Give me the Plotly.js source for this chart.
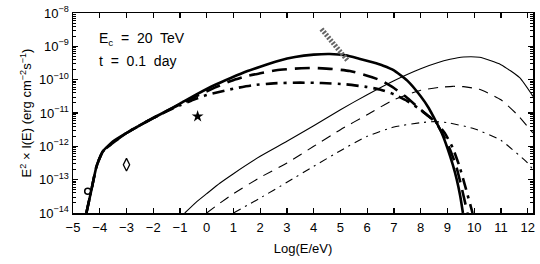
<!DOCTYPE html>
<html>
<head>
<meta charset="utf-8">
<script src="https://cdn.plot.ly/plotly-3.0.1.min.js"></script>
<style>html,body{margin:0;padding:0;background:#fff;}#chart{width:540px;height:264px;}</style>
</head>
<body>
<div id="chart"></div>
<script>
// Values are log10 of E^2 x I(E) (erg cm^-2 s^-1)
const thickSolidX = [-4.5, -4.31, -4.12, -3.88, -3.5, -3, -2.5, -2, -1.5, -1, -0.4, 0.3, 0.9, 1.5, 2, 2.7, 3.3, 4, 4.6, 5.2, 5.7, 6.2, 6.6, 7, 7.5, 8, 8.3, 8.6, 8.8, 9.0, 9.2, 9.35, 9.48, 9.58];
const thickSolidY = [-14, -13.3, -12.6, -12.15, -11.85, -11.6, -11.37, -11.15, -10.94, -10.72, -10.45, -10.16, -9.95, -9.75, -9.61, -9.43, -9.32, -9.25, -9.23, -9.27, -9.37, -9.48, -9.58, -9.72, -10.03, -10.5, -10.85, -11.3, -11.62, -12.05, -12.55, -13.0, -13.5, -14];

const thickDashX = [-4.5, -4.31, -4.12, -3.88, -3, -2, -1, -0.4, 0.3, 0.9, 1.5, 2, 2.6, 3.3, 4, 4.7, 5.35, 6, 6.5, 7, 7.5, 8, 8.3, 8.6, 8.9, 9.1, 9.33, 9.55, 9.75];
const thickDashY = [-14, -13.3, -12.6, -12.15, -11.6, -11.15, -10.74, -10.5, -10.24, -10.04, -9.89, -9.81, -9.72, -9.67, -9.65, -9.68, -9.74, -9.88, -10.02, -10.25, -10.55, -10.9, -11.1, -11.32, -11.75, -12.1, -12.6, -13.3, -14];

const thickDashDotX = [-4.5, -4.31, -4.12, -3.88, -3, -2, -1.5, -1, -0.5, 0, 1, 1.7, 2.5, 3.5, 4.3, 5.2, 6, 6.5, 7, 7.5, 7.9, 8.3, 8.6, 8.9, 9.2, 9.45, 9.7, 9.94];
const thickDashDotY = [-14, -13.3, -12.6, -12.15, -11.6, -11.15, -10.95, -10.77, -10.6, -10.46, -10.27, -10.17, -10.11, -10.09, -10.1, -10.14, -10.22, -10.3, -10.44, -10.64, -10.85, -11.1, -11.3, -11.6, -12.05, -12.6, -13.3, -14];

const thinSolidX = [-0.82, -0.4, 0, 0.5, 1, 2, 3, 4, 5, 6, 7, 8, 8.6, 9.1, 9.6, 10.2, 11, 11.7, 12.2];
const thinSolidY = [-14, -13.68, -13.42, -13.1, -12.82, -12.3, -11.85, -11.38, -10.9, -10.45, -10.03, -9.67, -9.5, -9.39, -9.32, -9.33, -9.55, -9.94, -10.5];

const thinDashX = [0, 0.5, 1, 2, 3, 4, 5, 6, 7, 8, 8.7, 9.2, 9.6, 10.2, 11, 11.6, 12.2];
const thinDashY = [-14, -13.7, -13.42, -12.93, -12.5, -12.0, -11.5, -11.05, -10.6, -10.32, -10.23, -10.2, -10.21, -10.29, -10.6, -11.04, -11.6];

const thinDashDotX = [1, 2, 3, 4, 5, 6, 7, 8, 8.5, 9, 10, 11, 12, 12.2];
const thinDashDotY = [-14, -13.55, -13.08, -12.6, -12.13, -11.7, -11.42, -11.29, -11.26, -11.29, -11.47, -11.82, -12.5, -12.7];

// observational points
const circleX = [-4.45], circleY = [-13.35];
const diamondX = [-3.0], diamondY = [-12.55];
const starX = [-0.34], starY = [-11.1];
// hatched TeV band (endpoints)
const bandX = [4.29, 5.29], bandY = [-8.48, -9.45];

const xTickVals = [-5,-4,-3,-2,-1,0,1,2,3,4,5,6,7,8,9,10,11,12];
const yTickVals = [1e-14,1e-13,1e-12,1e-11,1e-10,1e-9,1e-8];
const yTickText = ['10<sup>−14</sup>','10<sup>−13</sup>','10<sup>−12</sup>','10<sup>−11</sup>','10<sup>−10</sup>','10<sup>−9</sup>','10<sup>−8</sup>'];

const toLin = a => a.map(v => Math.pow(10, v));

function line(x, y, width, dash) {
  return {x: x, y: toLin(y), mode: 'lines', type: 'scatter', hoverinfo: 'skip',
    line: {color: '#000', width: width, dash: dash, shape: 'spline', smoothing: 0.5}};
}

const traces = [
  line(thickSolidX, thickSolidY, 2.6, 'solid'),
  line(thickDashX, thickDashY, 2.6, '15px,8px'),
  line(thickDashDotX, thickDashDotY, 2.6, '12px,6px,3px,6px'),
  line(thinSolidX, thinSolidY, 1.1, 'solid'),
  line(thinDashX, thinDashY, 1.1, '10px,7px'),
  line(thinDashDotX, thinDashDotY, 1.1, '8px,5px,2px,5px'),
  {x: bandX, y: toLin(bandY), mode: 'lines', type: 'scatter', hoverinfo: 'skip',
    line: {color: '#666', width: 5, dash: '2px,1.5px'}},
  {x: circleX, y: toLin(circleY), mode: 'markers', type: 'scatter',
    marker: {symbol: 'circle-open', size: 6, color: '#000', line: {width: 1.5, color: '#000'}}},
  {x: diamondX, y: toLin(diamondY), mode: 'markers', type: 'scatter',
    marker: {symbol: 'diamond-tall-open', size: 9, color: '#000', line: {width: 1.3, color: '#000'}}},
  {x: starX, y: toLin(starY), mode: 'markers', type: 'scatter',
    marker: {symbol: 'star', size: 9, color: '#000'}}
];

const font = {family: 'Liberation Sans, Arial, sans-serif', size: 13, color: '#000'};

const layout = {
  width: 540, height: 264,
  margin: {l: 73, r: 7, t: 13, b: 51},
  paper_bgcolor: '#fff', plot_bgcolor: '#fff',
  showlegend: false,
  font: font,
  xaxis: {
    range: [-5, 12.2], tickmode: 'array', tickvals: xTickVals,
    ticks: 'inside', ticklen: 5, tickwidth: 1.2, tickcolor: '#000',
    showline: true, linecolor: '#000', linewidth: 1.5, mirror: 'ticks',
    showgrid: false, zeroline: false,
    tickfont: {family: font.family, size: 13}, ticklabelstandoff: 2,
    title: {text: 'Log(E/eV)', font: {family: font.family, size: 13}, standoff: 10}
  },
  yaxis: {
    type: 'log', range: [-14, -8], tickmode: 'array', tickvals: yTickVals, ticktext: yTickText,
    ticks: 'inside', ticklen: 5, tickwidth: 1.2, tickcolor: '#000',
    minor: {ticks: 'inside', ticklen: 3, tickcolor: '#000', tickwidth: 1, dtick: 'D1', showgrid: false},
    showline: true, linecolor: '#000', linewidth: 1.5, mirror: 'ticks',
    showgrid: false, zeroline: false,
    tickfont: {family: font.family, size: 13},
    title: {text: 'E<sup>2</sup> × I(E) (erg cm<sup>−2</sup>s<sup>−1</sup>)', font: {family: font.family, size: 13}, standoff: 4}
  },
  annotations: [
    {xref: 'paper', yref: 'paper', x: 0.052, y: 0.87, xanchor: 'left', yanchor: 'middle', showarrow: false,
      text: 'E<sub>c</sub>&nbsp; = &nbsp;20&nbsp; TeV', font: {family: font.family, size: 14}},
    {xref: 'paper', yref: 'paper', x: 0.052, y: 0.76, xanchor: 'left', yanchor: 'middle', showarrow: false,
      text: 't&nbsp; = &nbsp;0.1&nbsp; day', font: {family: font.family, size: 14}}
  ]
};

Plotly.newPlot('chart', traces, layout, {staticPlot: true, displayModeBar: false});
</script>
</body>
</html>
